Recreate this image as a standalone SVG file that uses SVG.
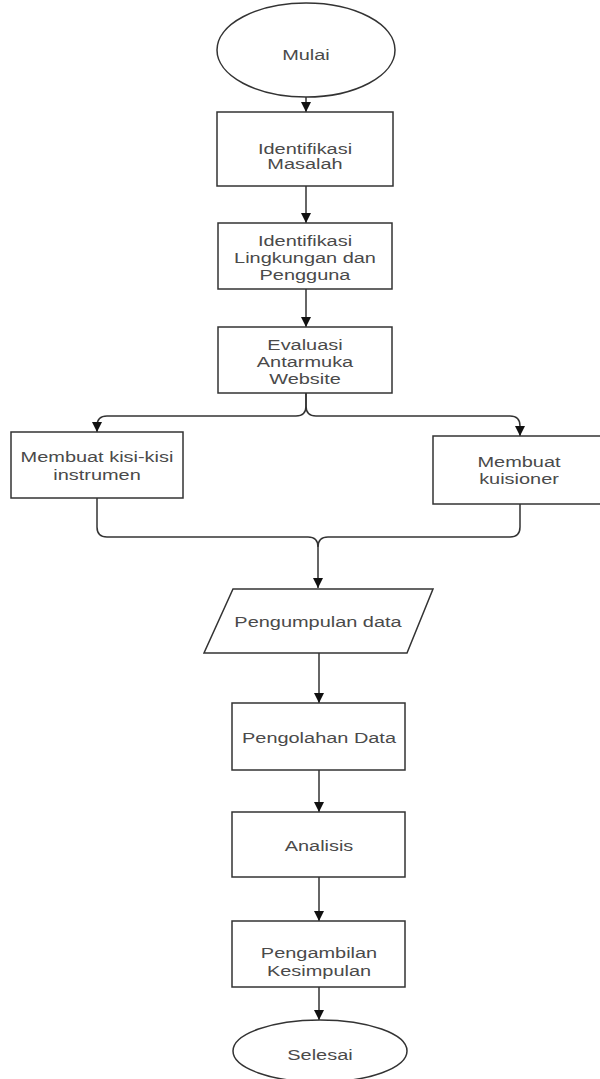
<svg xmlns="http://www.w3.org/2000/svg" width="600" height="1079" viewBox="0 0 600 1079">
<defs>
<marker id="ah" viewBox="0 0 10 10" refX="10" refY="5" markerWidth="10" markerHeight="10" markerUnits="userSpaceOnUse" orient="auto">
<path d="M0,0 L10,5 L0,10 z" fill="#111"/>
</marker>
<style>
.n{fill:#fff;stroke:#333;stroke-width:1.5}
.t{font-family:"Liberation Sans",Arial,sans-serif;font-size:15px;fill:#4a4a4a;text-anchor:middle}
.c{fill:none;stroke:#333;stroke-width:1.5}
</style>
</defs>
<rect width="600" height="1079" fill="#fff"/>
<g id="connectors">
<path class="c" d="M306,97 V112" marker-end="url(#ah)"/>
<path class="c" d="M306,186 V223" marker-end="url(#ah)"/>
<path class="c" d="M306,289 V327" marker-end="url(#ah)"/>
<path class="c" d="M306,393 V406 Q306,416 296,416 H107 Q97,416 97,426 V432" marker-end="url(#ah)"/>
<path class="c" d="M306,393 V406 Q306,416 316,416 H510 Q520,416 520,426 V436" marker-end="url(#ah)"/>
<path class="c" d="M97,498 V527 Q97,537 107,537 H308 Q318,537 318,547 V588" marker-end="url(#ah)"/>
<path class="c" d="M520,504 V527 Q520,537 510,537 H328 Q318,537 318,547"/>
<path class="c" d="M319,653 V703" marker-end="url(#ah)"/>
<path class="c" d="M319,770 V812" marker-end="url(#ah)"/>
<path class="c" d="M319,877 V921" marker-end="url(#ah)"/>
<path class="c" d="M319,987 V1020" marker-end="url(#ah)"/>
</g>
<g id="mulai">
<ellipse class="n" cx="306" cy="50" rx="89" ry="47"/>
<text class="t" transform="translate(306,60) scale(1.33,1)">Mulai</text>
</g>
<g id="identifikasi-masalah">
<rect class="n" x="217" y="112" width="176" height="74"/>
<text class="t" transform="translate(305,154) scale(1.33,1)">Identifikasi</text>
<text class="t" transform="translate(305,169) scale(1.33,1)">Masalah</text>
</g>
<g id="identifikasi-lingkungan">
<rect class="n" x="218" y="223" width="174" height="66"/>
<text class="t" transform="translate(305,246) scale(1.33,1)">Identifikasi</text>
<text class="t" transform="translate(305,263) scale(1.33,1)">Lingkungan dan</text>
<text class="t" transform="translate(305,280) scale(1.33,1)">Pengguna</text>
</g>
<g id="evaluasi">
<rect class="n" x="218" y="327" width="174" height="66"/>
<text class="t" transform="translate(305,350) scale(1.33,1)">Evaluasi</text>
<text class="t" transform="translate(305,367) scale(1.33,1)">Antarmuka</text>
<text class="t" transform="translate(305,384) scale(1.33,1)">Website</text>
</g>
<g id="kisi-kisi">
<rect class="n" x="11" y="432" width="172" height="66"/>
<text class="t" transform="translate(97,462) scale(1.33,1)">Membuat kisi-kisi</text>
<text class="t" transform="translate(97,480) scale(1.33,1)">instrumen</text>
</g>
<g id="kuisioner">
<rect class="n" x="433" y="436" width="172" height="68"/>
<text class="t" transform="translate(519,467) scale(1.33,1)">Membuat</text>
<text class="t" transform="translate(519,484) scale(1.33,1)">kuisioner</text>
</g>
<g id="pengumpulan">
<polygon class="n" points="233,589 433,589 407,653 204,653"/>
<text class="t" transform="translate(318,627) scale(1.33,1)">Pengumpulan data</text>
</g>
<g id="pengolahan">
<rect class="n" x="232" y="703" width="173" height="67"/>
<text class="t" transform="translate(319,743) scale(1.33,1)">Pengolahan Data</text>
</g>
<g id="analisis">
<rect class="n" x="232" y="812" width="173" height="65"/>
<text class="t" transform="translate(319,851) scale(1.33,1)">Analisis</text>
</g>
<g id="pengambilan">
<rect class="n" x="232" y="921" width="173" height="66"/>
<text class="t" transform="translate(319,958) scale(1.33,1)">Pengambilan</text>
<text class="t" transform="translate(319,976) scale(1.33,1)">Kesimpulan</text>
</g>
<g id="selesai">
<ellipse class="n" cx="320" cy="1051" rx="87" ry="31"/>
<text class="t" transform="translate(320,1060) scale(1.33,1)">Selesai</text>
</g>
</svg>
